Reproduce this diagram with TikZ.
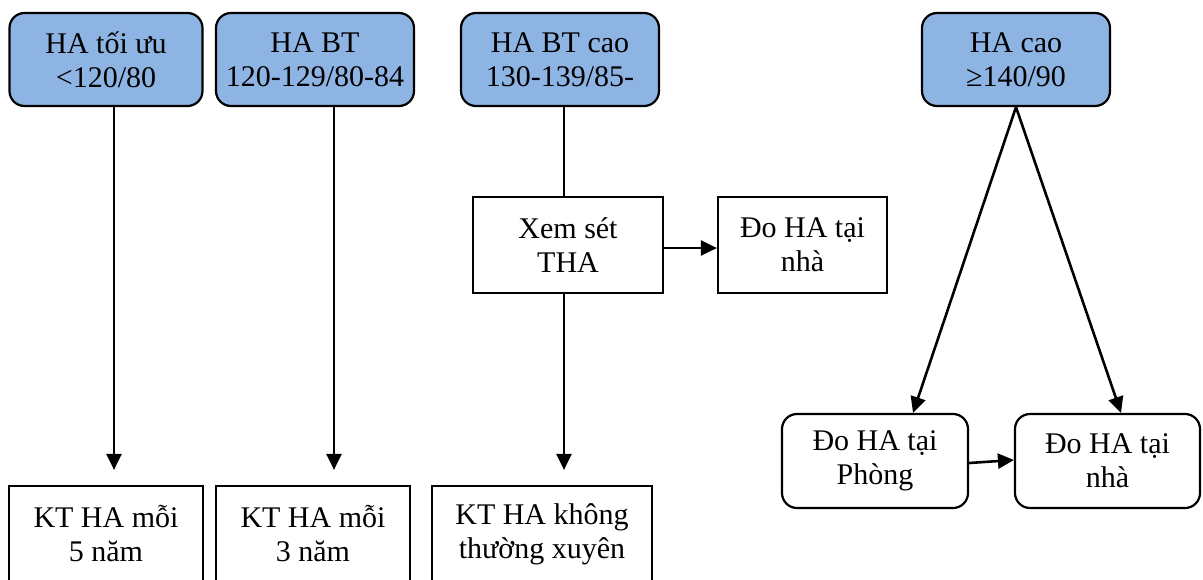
\documentclass[tikz,border=0pt]{standalone}
\usepackage{fontspec}
\setmainfont{Liberation Serif}
\usetikzlibrary{arrows.meta}
\definecolor{levelblue}{HTML}{8EB4E3}
\tikzset{
  level/.style={draw=black, line width=2.2pt, fill=levelblue, rounded corners=15pt,
    align=center, inner sep=0pt, minimum height=93pt,
    font=\fontsize{30}{34}\selectfont},
  plainbox/.style={draw=black, line width=2.2pt, fill=white,
    align=center, inner sep=0pt, minimum height=96pt,
    font=\fontsize{30}{34}\selectfont},
  roundbox/.style={plainbox, rounded corners=15pt, minimum height=94pt},
  arr/.style={line width=2.6pt, -{Triangle[length=16pt,width=15pt]}},
  thin/.style={line width=1.4pt}
}
\begin{document}
\begin{tikzpicture}[x=1pt,y=-1pt]
\useasboundingbox (0,0) rectangle (1203,579);

% blood pressure levels
\node[level, minimum width=193pt] (t1) at (106,59.5) {HA tối ưu\\<120/80};
\node[level, minimum width=198pt] (t2) at (315,59.5) {HA BT\\120-129/80-84};
\node[level, minimum width=198pt] (t3) at (560,59.5) {HA BT cao\\130-139/85-};
\node[level, minimum width=188pt] (t4) at (1016,59.5) {HA cao\\≥140/90};

% follow-up boxes
\node[plainbox, minimum width=194pt] (b1) at (106,534) {KT HA mỗi\\5 năm};
\node[plainbox, minimum width=194pt] (b2) at (313,534) {KT HA mỗi\\3 năm};
\node[plainbox, minimum width=220pt] (b3) at (542,534) {KT HA không\\thường xuyên};

\node[plainbox, minimum width=190pt] (x1) at (568,245) {Xem sét\\THA};
\node[plainbox, minimum width=169pt] (h1) at (802.5,245) {Đo HA tại\\nhà};

\node[roundbox, minimum width=186pt] (r1) at (875,461) {Đo HA tại\\Phòng};
\node[roundbox, minimum width=185pt] (r2) at (1107.5,461) {Đo HA tại\\nhà};

% connector columns
\coordinate (c1) at (114,0);
\coordinate (c2) at (334,0);
\coordinate (c3) at (564,0);
\coordinate (e1) at (913,0);
\coordinate (e2) at (1121,0);

\draw[arr, shorten >=15pt] (t1.south -| c1) -- (b1.north -| c1);
\draw[arr, shorten >=15pt] (t2.south -| c2) -- (b2.north -| c2);
\draw[thin] (t3.south -| c3) -- (x1.north -| c3);
\draw[arr, shorten >=15pt] (x1.south -| c3) -- (b3.north -| c3);
\draw[arr] (x1.east |- 0,248) -- (h1.west |- 0,248);

\draw[arr] (t4.south) -- (r1.north -| e1);
\draw[arr] (t4.south) -- (r2.north -| e2);
\draw[arr] (r1.east |- 0,463) -- (r2.west |- 0,460);
\end{tikzpicture}
\end{document}
